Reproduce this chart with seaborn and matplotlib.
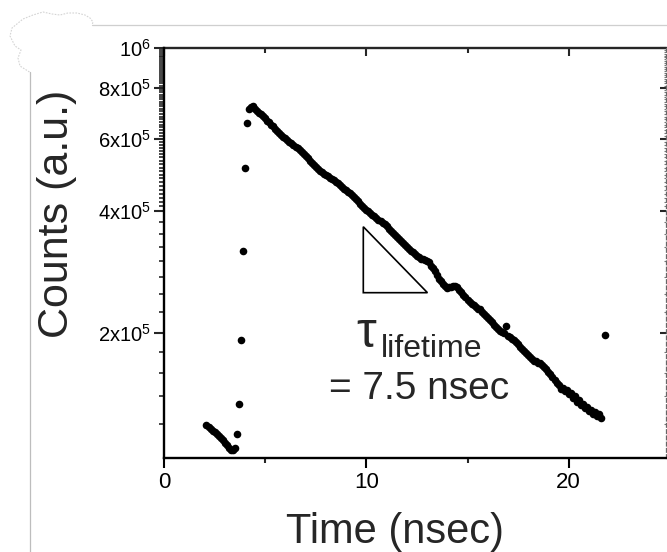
import matplotlib
matplotlib.use("Agg")
import matplotlib.pyplot as plt
import pandas as pd
import seaborn as sns
from matplotlib.lines import Line2D
from matplotlib.patches import Polygon
from matplotlib.ticker import FixedLocator, NullFormatter

# Photoluminescence decay trace (TCSPC histogram)
time_ns = [
    2.1, 2.2, 2.3, 2.4, 2.5, 2.6, 2.7, 2.8, 2.9, 3.0, 3.1, 3.2, 3.3, 3.4, 3.5,
    3.6, 3.7, 3.8, 3.9, 4.0, 4.1,
    4.2, 4.3, 4.4, 4.5, 4.6, 4.7, 4.8, 4.9, 5.0, 5.1,
    5.2, 5.3, 5.4, 5.5, 5.6, 5.7, 5.8, 5.9,
    6.0, 6.1, 6.2, 6.3, 6.4, 6.5, 6.6, 6.7,
    6.8, 6.9, 7.0, 7.1, 7.2, 7.3, 7.4, 7.5,
    7.6, 7.7, 7.8, 7.9, 8.0, 8.1, 8.2, 8.3,
    8.4, 8.5, 8.6, 8.7, 8.8, 8.9, 9.0, 9.1,
    9.2, 9.3, 9.4, 9.5, 9.6, 9.7, 9.8, 9.9, 10.0,
    10.1, 10.2, 10.3, 10.4, 10.5, 10.6, 10.7, 10.8,
    10.9, 11.0, 11.1, 11.2, 11.3, 11.4, 11.5,
    11.6, 11.7, 11.8, 11.9, 12.0, 12.1,
    12.2, 12.3, 12.4, 12.5, 12.6,
    12.7, 12.8, 12.9, 13.0, 13.1,
    13.2, 13.3, 13.4, 13.5, 13.6,
    13.7, 13.8, 13.9, 14.0,
    14.1, 14.2, 14.3, 14.4, 14.5,
    14.6, 14.7, 14.8, 14.9, 15.0, 15.1,
    15.2, 15.3, 15.4, 15.5, 15.6,
    15.7, 15.8, 15.9, 16.0, 16.1,
    16.2, 16.3, 16.4, 16.5, 16.6, 16.7, 16.8,
    16.9, 17.0, 17.1, 17.2,
    17.3, 17.4, 17.5, 17.6, 17.7,
    17.8, 17.9, 18.0, 18.1, 18.2,
    18.3, 18.4, 18.5,
    18.6, 18.7, 18.8, 18.9, 19.0,
    19.1, 19.2, 19.3, 19.4, 19.5, 19.6,
    19.7, 19.8, 19.9, 20.0,
    20.1, 20.2, 20.3, 20.4, 20.5,
    20.6, 20.7, 20.8, 20.9, 21.0,
    21.1, 21.2, 21.3, 21.4, 21.5, 21.6,
    21.8,
]
counts = [
    119000, 117800, 116600, 115400, 114200, 113000, 111800, 110600, 109300,
    107800, 106200, 104600, 103400, 103200, 104400,
    113000, 134000, 193000, 318000, 508000, 655000,
    708000, 718000, 720000, 711000, 703000, 695000, 689000, 681000, 673000, 665000,
    658000, 650000, 643000, 635000, 628000, 621000, 614000, 607000,
    601000, 596000, 590000, 585000, 579000, 574000, 569000, 564000,
    557000, 550000, 543000, 537000, 530000, 524000, 518000, 511000,
    506000, 501000, 498000, 493000, 490000, 485000, 482000, 478000,
    474000, 470000, 466000, 461000, 457000, 453000, 449000, 445000,
    441000, 436000, 431000, 426000, 421000, 416000, 411000, 406000, 402000,
    398000, 394000, 391000, 387000, 384000, 380000, 377000, 373000,
    370000, 366000, 361000, 357000, 353000, 349000, 345000,
    341000, 337000, 333000, 330000, 326000, 322000,
    319000, 316000, 313000, 310000, 307000,
    305000, 304000, 303000, 301000, 299000,
    293000, 289000, 284000, 278000, 272000,
    268000, 264000, 261000, 258000,
    259000, 260000, 261000, 261000, 259000,
    255000, 252000, 248000, 245000, 242000, 238000,
    236000, 234000, 232000, 230000, 229000,
    226000, 223000, 221000, 218000, 216000,
    213000, 210000, 207000, 205000, 203000, 201000, 200000,
    208000, 197000, 196000, 194000,
    192000, 190000, 188000, 185000, 183000,
    181000, 179000, 177000, 175000, 173000,
    171000, 171000, 169000,
    169000, 167000, 165000, 163000, 161000,
    159000, 156000, 154000, 151000, 149000, 146000,
    147000, 144000, 145000, 142000,
    143000, 139000, 140000, 136000, 137000,
    133000, 134000, 131000, 132000, 129000,
    130000, 127000, 128000, 125000, 127000, 124000,
    198000,
]

x_major_ticks = [0, 10, 20]
x_minor_ticks = [5, 15]
y_major_ticks = [2e5, 4e5, 6e5, 8e5, 1e6]
y_tick_labels = [r"2x10$^{5}$", r"4x10$^{5}$", r"6x10$^{5}$",
                 r"8x10$^{5}$", r"10$^{6}$"]

# slope guide triangle (time, counts)
slope_t = [9.85, 9.85, 13.02]
slope_counts = [365000, 251500, 251500]

sns.set_theme(style="ticks")
plt.rcParams["font.family"] = ["Liberation Sans", "DejaVu Sans"]
plt.rcParams["mathtext.fontset"] = "custom"
plt.rcParams["mathtext.rm"] = "Liberation Sans"
plt.rcParams["mathtext.it"] = "Liberation Sans:italic"
plt.rcParams["mathtext.bf"] = "Liberation Sans:bold"

W, H = 667, 552


def fx(px):
    return px / W


def fy(py):
    return 1 - py / H


fig = plt.figure(figsize=(W / 100, H / 100), dpi=100)
fig.patch.set_facecolor("white")
ax = fig.add_axes([fx(164), fy(458.3), (666 - 164) / W, (458.3 - 48.3) / H])
ax.set_facecolor("white")

df = pd.DataFrame({"time_ns": time_ns, "counts": counts})
sns.scatterplot(data=df, x="time_ns", y="counts", color="black", s=30,
                linewidth=0, ax=ax, legend=False)

ax.set_yscale("log")
ax.set_xlim(0, 24.81)
ax.set_ylim(98700, 1e6)
ax.set_xlabel("")
ax.set_ylabel("")

# y minor ticks
y_minor = ([1.2e5, 1.4e5, 1.6e5, 1.8e5]
           + [2.25e5, 2.5e5, 2.75e5, 3e5, 3.25e5, 3.5e5, 3.75e5]
           + [v * 1e4 for v in range(41, 100) if v not in (60, 80)])

ax.xaxis.set_major_locator(FixedLocator(x_major_ticks))
ax.xaxis.set_minor_locator(FixedLocator(x_minor_ticks))
ax.xaxis.set_minor_formatter(NullFormatter())
ax.yaxis.set_major_locator(FixedLocator(y_major_ticks))
ax.set_yticklabels(y_tick_labels)
ax.yaxis.set_minor_locator(FixedLocator(y_minor))
ax.yaxis.set_minor_formatter(NullFormatter())

ax.tick_params(axis="x", which="major", direction="out", length=7, width=1.5,
               labelsize=16, pad=3, colors="black", labelcolor="black")
ax.tick_params(axis="x", which="minor", direction="out", length=3.5, width=1.5)
ax.tick_params(axis="y", which="major", direction="out", length=7, width=1.5,
               labelsize=14.5, pad=2.5, labelcolor="black")
ax.tick_params(axis="y", which="minor", direction="out", length=3.5, width=1.2)

for side in ("left", "bottom", "top"):
    ax.spines[side].set_linewidth(1.7)
    ax.spines[side].set_color("black")
ax.spines["right"].set_visible(False)
ax.spines["top"].set_visible(False)

# mirrored axes with inward ticks
top = ax.secondary_xaxis("top")
top.xaxis.set_major_locator(FixedLocator(x_major_ticks))
top.xaxis.set_minor_locator(FixedLocator(x_minor_ticks))
top.xaxis.set_major_formatter(NullFormatter())
top.xaxis.set_minor_formatter(NullFormatter())
top.tick_params(which="major", direction="in", length=6, width=1.5)
top.tick_params(which="minor", direction="in", length=3.5, width=1.5)
top.spines["top"].set_linewidth(1.7)

right = ax.secondary_yaxis("right")
right.yaxis.set_major_locator(FixedLocator(y_major_ticks))
right.yaxis.set_minor_locator(FixedLocator(y_minor))
right.yaxis.set_major_formatter(NullFormatter())
right.yaxis.set_minor_formatter(NullFormatter())
right.tick_params(which="major", direction="in", length=4, width=1.5)
right.tick_params(which="minor", direction="in", length=1.5, width=0.8,
                  color="#777777")
right.spines["right"].set_linewidth(0.9)
right.spines["right"].set_color("#666666")
right.spines["right"].set_linestyle((0, (3, 2)))

# slope guide
ax.add_patch(Polygon(list(zip(slope_t, slope_counts)), closed=True,
                     fill=False, edgecolor="black", linewidth=1.2))

# lifetime annotation
fig.text(fx(356), fy(347), "τ", fontsize=36, ha="left", va="baseline")
fig.text(fx(381), fy(357), "lifetime", fontsize=23, ha="left", va="baseline")
fig.text(fx(329), fy(399), "= 7.5 nsec", fontsize=28, ha="left", va="baseline")

# axis titles
fig.text(fx(57), fy(214), "Counts (a.u.)", rotation=90, fontsize=31,
         ha="center", va="center")
fig.text(fx(395), fy(543), "Time (nsec)", fontsize=30, ha="center",
         va="baseline")

# page frame lines
fig.add_artist(Line2D([fx(92), 1.0], [fy(25), fy(25)], color="#cfcfcf", lw=0.9))
fig.add_artist(Line2D([fx(29.5), fx(29.5)], [fy(72), 0.0], color="#bdbdbd", lw=0.9))
cloud_x = [29.5, 20, 18, 21, 15, 10, 12, 23, 33, 43, 52, 60, 68, 77, 85, 90, 93, 92]
cloud_y = [72, 66, 58, 50, 46, 36, 28, 19, 15, 12, 14, 15, 13, 13, 15, 18, 22, 25]
fig.add_artist(Line2D([fx(v) for v in cloud_x], [fy(v) for v in cloud_y],
                      color="#d4d4d4", lw=0.8, linestyle=(0, (1.5, 1.2))))

fig.savefig("out.png", dpi=100, facecolor="white")
